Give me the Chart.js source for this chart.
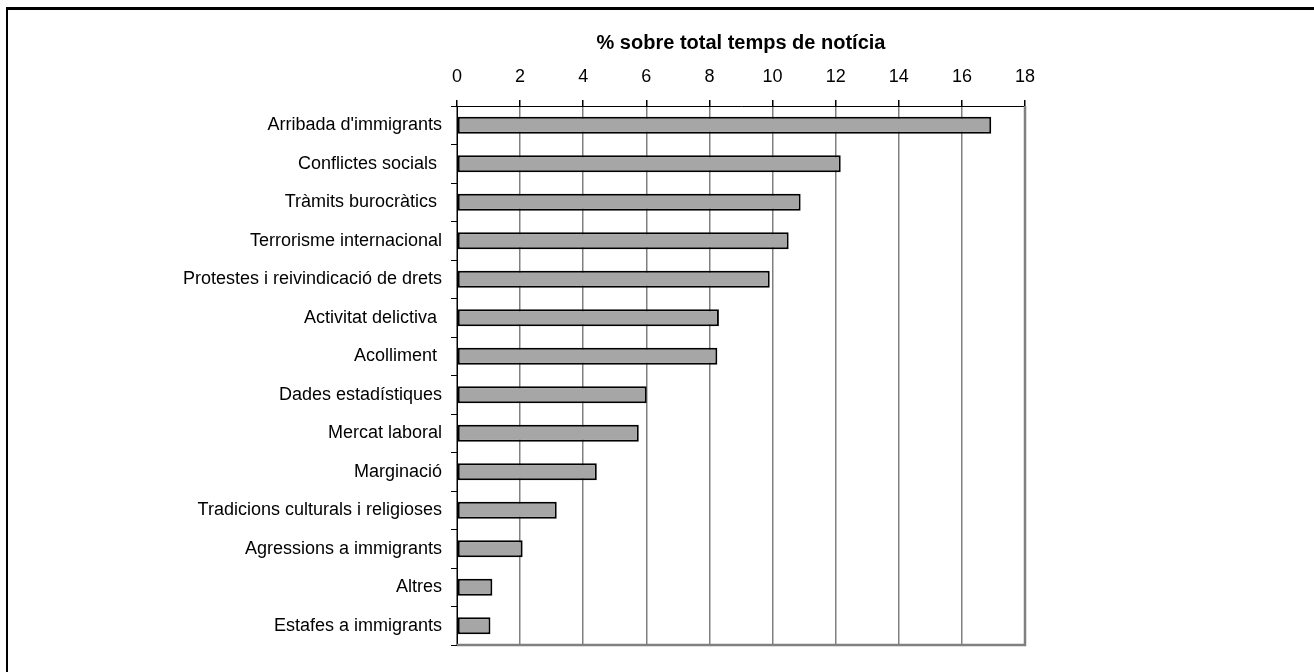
<!DOCTYPE html>
<html>
<head>
<meta charset="utf-8">
<title>% sobre total temps de notícia</title>
<script src="https://cdn.jsdelivr.net/npm/chart.js@4/dist/chart.umd.min.js"></script>
<style>
  html, body { margin: 0; padding: 0; background: #fff; overflow: hidden; }
  #frame {
    position: absolute; left: 6px; top: 7px; right: -10px; bottom: -10px;
    border-left: 2px solid #000; border-top: 3px solid #000;
  }
  #chart { position: absolute; left: 0; top: 0; }
</style>
</head>
<body>
<div id="frame"></div>
<canvas id="chart" width="1314" height="672"></canvas>
<script>
(function () {
  'use strict';

  // trailing spaces are part of some source labels
  var categories = [
    "Arribada d'immigrants", "Conflictes socials ", "Tràmits burocràtics ",
    "Terrorisme internacional", "Protestes i reivindicació de drets",
    "Activitat delictiva ", "Acolliment ", "Dades estadístiques",
    "Mercat laboral", "Marginació", "Tradicions culturals i religioses",
    "Agressions a immigrants", "Altres", "Estafes a immigrants"
  ];

  var shares = [16.93, 12.16, 10.89, 10.51, 9.91, 8.30, 8.25,
    6.01, 5.76, 4.43, 3.16, 2.08, 1.12, 1.06];

  var axisMin = 0, axisMax = 18, axisStep = 2;

  var fontFamily = "Arial, 'Liberation Sans', sans-serif";

  // grey right and bottom edges of the plot box
  var plotEdges = {
    id: 'plotEdges',
    afterDatasetsDraw: function (chart) {
      var a = chart.chartArea;
      var ctx = chart.ctx;
      ctx.save();
      ctx.strokeStyle = '#808080';
      ctx.lineWidth = 2.5;
      ctx.beginPath();
      ctx.moveTo(a.right, a.top);
      ctx.lineTo(a.right, a.bottom);
      ctx.lineTo(a.left, a.bottom);
      ctx.stroke();
      ctx.restore();
    }
  };

  new Chart(document.getElementById('chart'), {
    type: 'bar',
    data: {
      labels: categories,
      datasets: [{
        data: shares,
        backgroundColor: '#a6a6a6',
        borderColor: '#000',
        borderWidth: 2,
        borderSkipped: false,
        categoryPercentage: 1,
        barPercentage: 0.44
      }]
    },
    options: {
      indexAxis: 'y',
      responsive: false,
      animation: false,
      layout: {
        padding: { left: 0, right: 289, top: 10, bottom: 27 }
      },
      plugins: {
        legend: { display: false },
        tooltip: { enabled: false },
        title: {
          display: true,
          fullSize: false,
          text: '% sobre total temps de notícia',
          color: '#000',
          font: { family: fontFamily, size: 20, weight: 'bold' },
          padding: { top: 21, bottom: 5 }
        }
      },
      scales: {
        x: {
          position: 'top',
          min: axisMin,
          max: axisMax,
          afterFit: function (scale) { scale.height = 46; },
          ticks: {
            stepSize: axisStep,
            color: '#000',
            padding: 12,
            font: { family: fontFamily, size: 18 }
          },
          grid: {
            color: '#808080',
            lineWidth: 1.5,
            tickColor: '#000',
            tickLength: 6
          },
          border: { color: '#000', width: 1 }
        },
        y: {
          afterFit: function (scale) { scale.width = 457; },
          ticks: {
            color: '#000',
            padding: 9,
            font: { family: fontFamily, size: 18 }
          },
          grid: {
            drawOnChartArea: false,
            color: '#000',
            tickLength: 6
          },
          border: { color: '#000', width: 1 }
        }
      }
    },
    plugins: [plotEdges]
  });
})();
</script>
</body>
</html>
